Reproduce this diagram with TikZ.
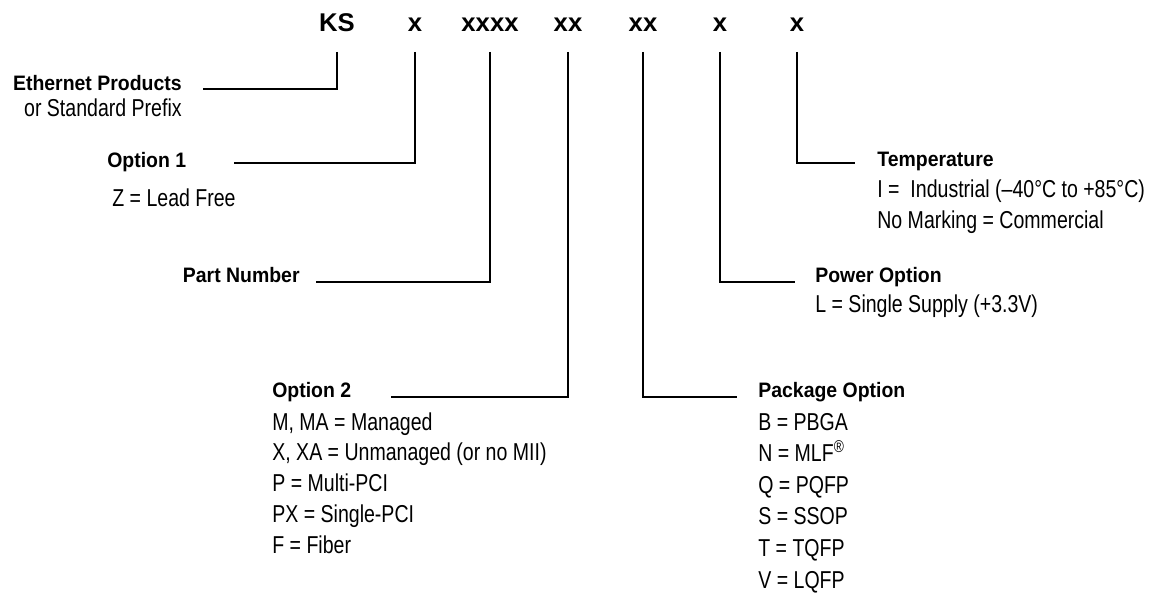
\documentclass[tikz,border=0pt]{standalone}
\usepackage{fontspec}
\setmainfont{Liberation Sans}
\newfontfamily\headsans[FakeStretch=0.93]{Liberation Sans}
\newfontfamily\narrowsans[FakeStretch=0.80]{Liberation Sans}
\tikzset{
  code/.style={font=\fontsize{14.6}{17}\selectfont\bfseries,anchor=base,inner sep=0pt},
  head/.style={font=\headsans\fontsize{11.9}{14}\selectfont\bfseries,inner sep=0pt},
  desc/.style={font=\narrowsans\fontsize{13.9}{16}\selectfont,inner sep=0pt,anchor=base west},
  lead/.style={line width=1.3pt,shorten <=4mm},
}

\begin{document}
\begin{tikzpicture}[x=.02cm,y=-.02cm]
  \useasboundingbox (0,0) rectangle (1155,594);

  % the code letters along the top
  \node[code] (ks) at (337,32) {KS};
  \node[code] (c-opt1) at (415,32) {x};
  \node[code] (c-part) at (490,32) {xxxx};
  \node[code] (c-opt2) at (568,32) {xx};
  \node[code] (c-pkg) at (643,32) {xx};
  \node[code] (c-pow) at (720,32) {x};
  \node[code] (c-temp) at (797,32) {x};

  % left hand fields
  \node[head,anchor=base east] (eth) at (182,91) {Ethernet Products};
  \node[desc,anchor=base east] (eth-d) at (182,117) {or Standard Prefix};
  \node[head,anchor=base west] (opt1) at (107,168) {Option 1};
  \node[desc] (opt1-d) at (112,207) {Z = Lead Free};
  \node[head,anchor=base east] (part) at (300,282) {Part Number};
  \node[head,anchor=base west] (opt2) at (272,397) {Option 2};
  \foreach \txt [count=\i] in {{M, MA = Managed},{X, XA = Unmanaged (or no MII)},
      {P = Multi-PCI},{PX = Single-PCI},{F = Fiber}}{
    \node[desc] (opt2-\i) at (272,{430+30.8*(\i-1)}) {\txt};
  }

  % right hand fields
  \node[head,anchor=base west] (pkg) at (758,397) {Package Option};
  \foreach \txt [count=\i] in {{B = PBGA},{N = MLF\textsuperscript{®}},{Q = PQFP},
      {S = SSOP},{T = TQFP},{V = LQFP}}{
    \node[desc] (pkg-\i) at (758,{430+31.6*(\i-1)}) {\txt};
  }
  \node[head,anchor=base west] (pow) at (815,282) {Power Option};
  \node[desc] (pow-d) at (815,313) {L = Single Supply (+3.3V)};
  \node[head,anchor=base west] (temp) at (877,167) {Temperature};
  \node[desc] (temp-1) at (877,198) {I = \ Industrial (–40°C to +85°C)};
  \node[desc] (temp-2) at (877,229) {No Marking = Commercial};

  % leaders
  \draw[lead,shorten >=4.2mm] (ks.base) |- ([yshift=.4mm]eth.base east);
  \draw[lead,shorten >=9.4mm] (c-opt1.base) |- ([yshift=1mm]opt1.base east);
  \draw[lead,shorten >=3.2mm] (c-part.base) |- (part.base east);
  \draw[lead,shorten >=7.8mm] (c-opt2.base) |- (opt2.base east);
  \draw[lead,shorten >=4.2mm] (c-pkg.base) |- (pkg.base west);
  \draw[lead,shorten >=4mm] (c-pow.base) |- (pow.base west);
  \draw[lead,shorten >=4.4mm] (c-temp.base) |- ([yshift=.8mm]temp.base west);
\end{tikzpicture}
\end{document}
